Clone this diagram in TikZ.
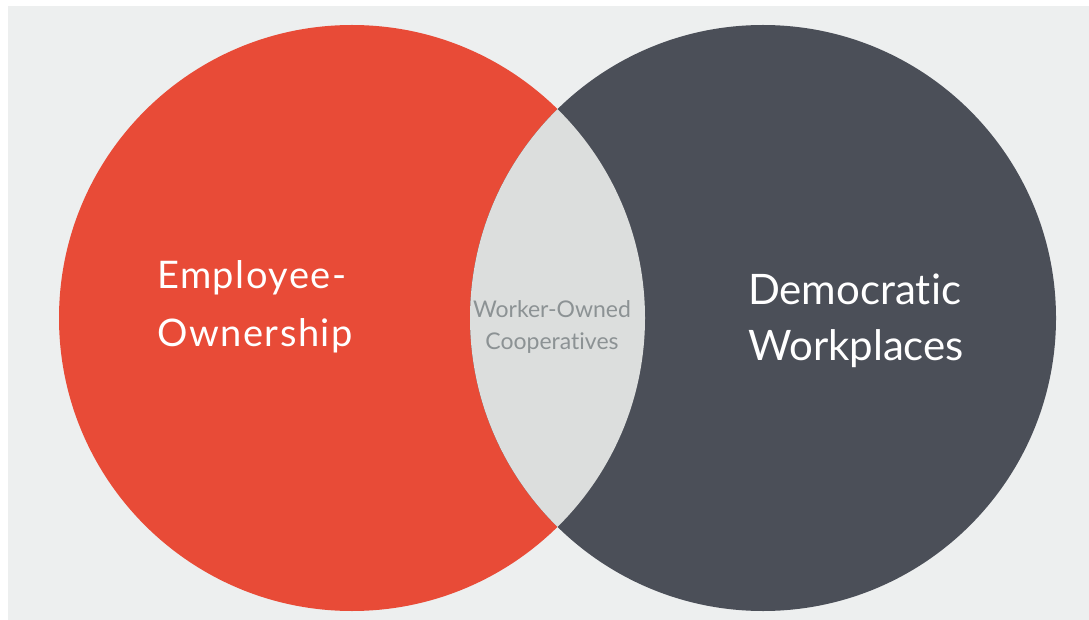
\documentclass[tikz,border=0pt]{standalone}
\usepackage{fontspec}
\setmainfont{Lato}[Ligatures=NoCommon]
\usepackage{tikz}
\usetikzlibrary{positioning}
\definecolor{rouge}{HTML}{E84B37}
\definecolor{ardoise}{HTML}{4B4F58}
\definecolor{fond}{HTML}{EDEFEF}
\definecolor{lentille}{HTML}{DCDEDD}
\definecolor{gristexte}{HTML}{8C9294}

\begin{document}
\begin{tikzpicture}[x=1pt, y=-1pt,
    grand/.style={text=white, align=left, inner sep=0pt},
    petit/.style={text=gristexte, align=center, inner sep=0pt, font=\fontsize{23}{32}\selectfont}]
    \useasboundingbox (0,0) rectangle (1089,620);

    % Fond
    \fill[white] (0,0) rectangle (1089,620);
    \fill[fond] (8,6) rectangle (1089,620);

    % Cercles
    \fill[rouge] (352,318) circle (293pt);
    \fill[ardoise] (763,318) circle (293pt);

    % Intersection
    \begin{scope}
        \clip (352,318) circle (293pt);
        \fill[lentille] (763,318) circle (293pt);
    \end{scope}

    % Textes
    \node[grand, font=\fontsize{38}{58}\selectfont\addfontfeature{LetterSpace=4}] (actionnariat) at (255,307) {Employee-\\Ownership};
    \node[grand, font=\fontsize{42}{56}\selectfont] (democratie) at (856,321) {Democratic\\Workplaces};
    \node[petit] (cooperatives) at (552,327) {Worker-Owned\\Cooperatives};
\end{tikzpicture}
\end{document}
